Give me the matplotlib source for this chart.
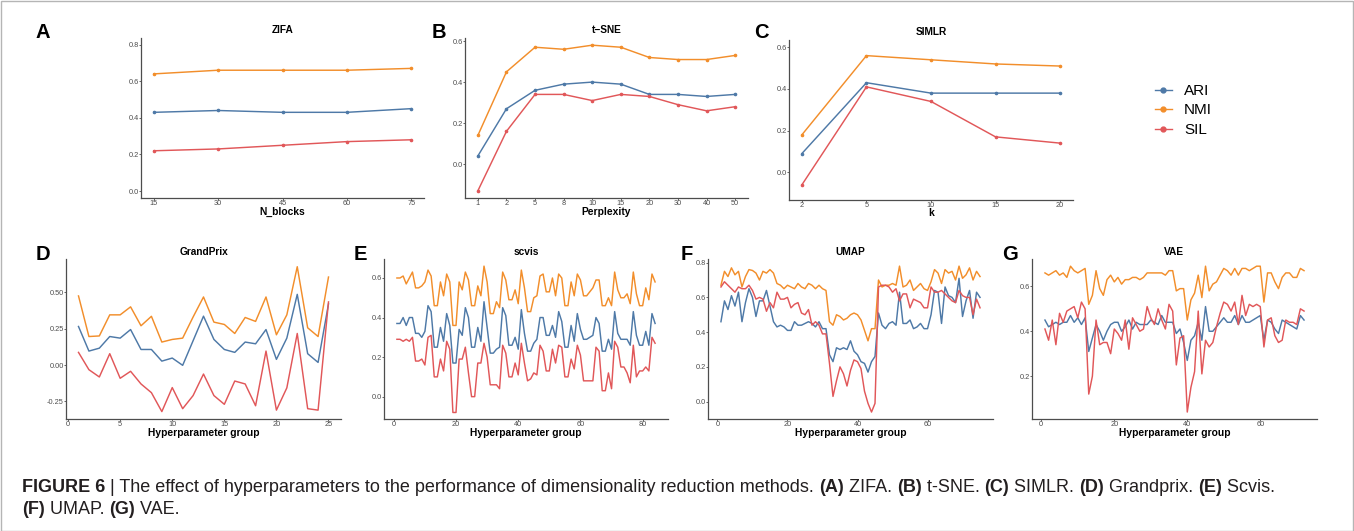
import numpy as np
import matplotlib.pyplot as plt
from matplotlib.patches import Rectangle
from matplotlib.lines import Line2D

W, H = 1354, 531
plt.rcParams['font.family'] = ['Liberation Sans', 'DejaVu Sans']

C_ARI = '#4e79a7'
C_NMI = '#f28e2b'
C_SIL = '#e15759'
AX_COL = '#4d4d4d'

# ---- data ----
zifa_x = [15, 30, 45, 60, 75]
zifa_ari = [0.43, 0.44, 0.43, 0.43, 0.45]
zifa_nmi = [0.64, 0.66, 0.66, 0.66, 0.67]
zifa_sil = [0.22, 0.23, 0.25, 0.27, 0.28]

tsne_labels = ['1', '2', '5', '8', '10', '15', '20', '30', '40', '50']
tsne_ari = [0.04, 0.27, 0.36, 0.39, 0.40, 0.39, 0.34, 0.34, 0.33, 0.34]
tsne_nmi = [0.14, 0.45, 0.57, 0.56, 0.58, 0.57, 0.52, 0.51, 0.51, 0.53]
tsne_sil = [-0.13, 0.16, 0.34, 0.34, 0.31, 0.34, 0.33, 0.29, 0.26, 0.28]

simlr_labels = ['2', '5', '10', '15', '20']
simlr_ari = [0.09, 0.43, 0.38, 0.38, 0.38]
simlr_nmi = [0.18, 0.56, 0.54, 0.52, 0.51]
simlr_sil = [-0.06, 0.41, 0.34, 0.17, 0.14]

gp_ari = [0.265, 0.096, 0.116, 0.196, 0.185, 0.244, 0.107, 0.107, 0.027, 0.048,
          -0.002, 0.167, 0.336, 0.176, 0.107, 0.087, 0.158, 0.146, 0.244, 0.039,
          0.185, 0.486, 0.078, 0.018, 0.42]
gp_nmi = [0.475, 0.196, 0.20, 0.345, 0.345, 0.40, 0.27, 0.335, 0.158, 0.176,
          0.185, 0.33, 0.468, 0.295, 0.279, 0.217, 0.327, 0.30, 0.468, 0.208,
          0.345, 0.676, 0.256, 0.196, 0.605]
gp_sil = [0.087, -0.032, -0.082, 0.078, -0.091, -0.043, -0.13, -0.19, -0.32, -0.155,
          -0.30, -0.21, -0.062, -0.21, -0.27, -0.11, -0.13, -0.28, 0.096, -0.31,
          -0.157, 0.217, -0.30, -0.31, 0.434]

scvis_nmi = [0.60, 0.60, 0.61, 0.57, 0.60, 0.63, 0.55, 0.55, 0.56, 0.58, 0.64, 0.61,
             0.46, 0.46, 0.58, 0.51, 0.62, 0.58, 0.36, 0.36, 0.58, 0.54, 0.63, 0.59,
             0.46, 0.46, 0.56, 0.51, 0.66, 0.58, 0.42, 0.42, 0.48, 0.45, 0.63, 0.59,
             0.49, 0.49, 0.54, 0.47, 0.64, 0.55, 0.43, 0.43, 0.50, 0.51, 0.61, 0.62,
             0.53, 0.53, 0.60, 0.51, 0.62, 0.60, 0.46, 0.46, 0.58, 0.51, 0.62, 0.59,
             0.51, 0.51, 0.53, 0.55, 0.59, 0.59, 0.46, 0.46, 0.50, 0.46, 0.63, 0.54,
             0.50, 0.50, 0.52, 0.47, 0.63, 0.52, 0.46, 0.46, 0.55, 0.49, 0.62, 0.58]
scvis_ari = [0.37, 0.37, 0.40, 0.36, 0.40, 0.40, 0.32, 0.32, 0.30, 0.33, 0.46, 0.43,
             0.25, 0.25, 0.35, 0.28, 0.42, 0.36, 0.17, 0.17, 0.34, 0.31, 0.45, 0.40,
             0.25, 0.25, 0.35, 0.28, 0.48, 0.35, 0.22, 0.22, 0.24, 0.25, 0.45, 0.41,
             0.26, 0.26, 0.30, 0.24, 0.44, 0.32, 0.23, 0.23, 0.27, 0.29, 0.40, 0.40,
             0.31, 0.31, 0.36, 0.30, 0.43, 0.38, 0.25, 0.25, 0.36, 0.28, 0.42, 0.34,
             0.29, 0.29, 0.30, 0.31, 0.40, 0.37, 0.23, 0.23, 0.29, 0.24, 0.43, 0.32,
             0.29, 0.29, 0.29, 0.26, 0.43, 0.31, 0.26, 0.26, 0.33, 0.26, 0.42, 0.37]
scvis_sil = [0.29, 0.29, 0.28, 0.29, 0.28, 0.30, 0.18, 0.18, 0.19, 0.16, 0.30, 0.31,
             0.10, 0.10, 0.19, 0.13, 0.28, 0.24, -0.08, -0.08, 0.19, 0.19, 0.25, 0.12,
             0.00, 0.00, 0.17, 0.17, 0.27, 0.20, 0.06, 0.06, 0.06, 0.04, 0.26, 0.22,
             0.10, 0.10, 0.17, 0.11, 0.27, 0.17, 0.08, 0.09, 0.12, 0.11, 0.26, 0.23,
             0.13, 0.13, 0.24, 0.17, 0.26, 0.25, 0.10, 0.10, 0.19, 0.14, 0.26, 0.21,
             0.08, 0.08, 0.08, 0.08, 0.25, 0.23, 0.03, 0.03, 0.12, 0.04, 0.28, 0.25,
             0.15, 0.15, 0.12, 0.07, 0.26, 0.10, 0.13, 0.13, 0.15, 0.13, 0.30, 0.27]

umap_nmi = [0.67, 0.75, 0.72, 0.77, 0.73, 0.75, 0.66, 0.72, 0.76, 0.755, 0.74, 0.70,
            0.75, 0.74, 0.76, 0.74, 0.68, 0.67, 0.65, 0.67, 0.66, 0.65, 0.68, 0.66,
            0.65, 0.68, 0.67, 0.65, 0.67, 0.65, 0.64, 0.46, 0.44, 0.50, 0.49, 0.47,
            0.48, 0.50, 0.51, 0.50, 0.47, 0.41, 0.35, 0.42, 0.42, 0.70, 0.66, 0.67,
            0.67, 0.68, 0.67, 0.78, 0.66, 0.67, 0.70, 0.64, 0.66, 0.68, 0.65, 0.64,
            0.69, 0.76, 0.74, 0.68, 0.76, 0.74, 0.75, 0.70, 0.78, 0.71, 0.73, 0.77,
            0.70, 0.75, 0.72]
umap_ari = [0.46, 0.58, 0.53, 0.61, 0.55, 0.63, 0.46, 0.57, 0.65, 0.60, 0.49, 0.58,
            0.58, 0.64, 0.55, 0.46, 0.43, 0.44, 0.43, 0.41, 0.41, 0.46, 0.44, 0.44,
            0.45, 0.46, 0.45, 0.43, 0.46, 0.42, 0.42, 0.27, 0.23, 0.31, 0.30, 0.31,
            0.30, 0.35, 0.29, 0.27, 0.23, 0.22, 0.17, 0.23, 0.26, 0.51, 0.44, 0.42,
            0.45, 0.46, 0.44, 0.63, 0.45, 0.45, 0.47, 0.42, 0.43, 0.45, 0.42, 0.42,
            0.50, 0.64, 0.63, 0.45, 0.66, 0.61, 0.60, 0.57, 0.71, 0.49, 0.58, 0.64,
            0.48, 0.63, 0.60]
umap_sil = [0.66, 0.69, 0.67, 0.65, 0.63, 0.66, 0.65, 0.65, 0.67, 0.64, 0.59, 0.60,
            0.59, 0.52, 0.57, 0.54, 0.63, 0.59, 0.59, 0.60, 0.54, 0.56, 0.57, 0.51,
            0.50, 0.53, 0.44, 0.46, 0.44, 0.39, 0.39, 0.22, 0.03, 0.12, 0.20, 0.16,
            0.09, 0.18, 0.24, 0.23, 0.19, 0.06, -0.01, -0.06, -0.01, 0.66, 0.67, 0.67,
            0.66, 0.63, 0.65, 0.58, 0.62, 0.62, 0.54, 0.59, 0.58, 0.57, 0.54, 0.54,
            0.66, 0.63, 0.63, 0.64, 0.62, 0.60, 0.58, 0.57, 0.64, 0.61, 0.60, 0.60,
            0.50, 0.59, 0.54]

vae_nmi = [0.66, 0.65, 0.66, 0.67, 0.65, 0.66, 0.64, 0.69, 0.67, 0.66, 0.67, 0.68,
           0.52, 0.56, 0.67, 0.59, 0.56, 0.63, 0.65, 0.62, 0.64, 0.61, 0.63, 0.63,
           0.64, 0.64, 0.63, 0.64, 0.66, 0.66, 0.66, 0.66, 0.66, 0.65, 0.67, 0.67,
           0.58, 0.59, 0.59, 0.45, 0.54, 0.57, 0.65, 0.55, 0.69, 0.58, 0.61, 0.62,
           0.65, 0.68, 0.67, 0.65, 0.68, 0.65, 0.68, 0.68, 0.67, 0.68, 0.69, 0.69,
           0.53, 0.66, 0.66, 0.62, 0.59, 0.64, 0.66, 0.66, 0.64, 0.64, 0.68, 0.67]
vae_ari = [0.45, 0.42, 0.43, 0.44, 0.43, 0.44, 0.44, 0.47, 0.44, 0.46, 0.43, 0.46,
           0.31, 0.37, 0.43, 0.40, 0.36, 0.40, 0.43, 0.44, 0.44, 0.40, 0.42, 0.45,
           0.41, 0.44, 0.43, 0.43, 0.43, 0.45, 0.44, 0.43, 0.47, 0.44, 0.44, 0.44,
           0.39, 0.41, 0.35, 0.27, 0.36, 0.38, 0.44, 0.36, 0.51, 0.40, 0.40, 0.42,
           0.44, 0.46, 0.44, 0.44, 0.47, 0.43, 0.47, 0.44, 0.44, 0.45, 0.46, 0.47,
           0.36, 0.45, 0.44, 0.41, 0.39, 0.45, 0.44, 0.43, 0.42, 0.41, 0.47, 0.45]
vae_sil = [0.41, 0.36, 0.45, 0.34, 0.48, 0.44, 0.49, 0.50, 0.51, 0.46, 0.53, 0.50,
           0.12, 0.20, 0.45, 0.34, 0.35, 0.35, 0.30, 0.41, 0.39, 0.36, 0.45, 0.32,
           0.46, 0.43, 0.40, 0.41, 0.51, 0.46, 0.43, 0.50, 0.45, 0.41, 0.52, 0.49,
           0.25, 0.37, 0.38, 0.04, 0.15, 0.22, 0.49, 0.21, 0.36, 0.33, 0.35, 0.42,
           0.48, 0.53, 0.52, 0.49, 0.53, 0.43, 0.56, 0.47, 0.52, 0.51, 0.52, 0.51,
           0.33, 0.45, 0.46, 0.38, 0.35, 0.36, 0.45, 0.44, 0.44, 0.43, 0.50, 0.49]

metric_names = ['ARI', 'NMI', 'SIL']
metric_colors = [C_ARI, C_NMI, C_SIL]


def fx(px):
    return px / W


def fy(py):
    return 1 - py / H


def make_axes(fig, l, t, r, b):
    ax = fig.add_axes([fx(l), fy(b), (r - l) / W, (b - t) / H])
    for s in ['top', 'right']:
        ax.spines[s].set_visible(False)
    for s in ['left', 'bottom']:
        ax.spines[s].set_color(AX_COL)
        ax.spines[s].set_linewidth(0.9)
    ax.tick_params(length=1.1, width=0.6, color=AX_COL, pad=0.5,
                   labelsize=5.3, labelcolor=AX_COL)
    ax.patch.set_alpha(0)
    return ax


def panel(fig, box, letter, letter_x, title, x, ari, nmi, sil, xlabel,
          ylim, yticks, yfmt, xticks=None, xticklabels=None, marker=None,
          row_y=(33, 30, 212)):
    l, t, r, b = box
    ax = make_axes(fig, l, t, r, b)
    kw = dict(lw=1.05, marker=marker, markersize=1.6 if marker else 0)
    for vals, name, col in zip([ari, nmi, sil], metric_names, metric_colors):
        ax.plot(x, vals, color=col, label=name, **kw)
    ax.margins(x=0.05)
    ax.set_ylim(*ylim)
    ax.set_yticks(yticks)
    ax.set_yticklabels([yfmt % v for v in yticks])
    if xticks is not None:
        ax.set_xticks(xticks)
    if xticklabels is not None:
        ax.set_xticklabels(xticklabels)
    cx = (l + r) / 2
    fig.text(fx(letter_x), fy(row_y[0]), letter, fontsize=14.5,
             fontweight='bold', ha='left', va='center')
    fig.text(fx(cx), fy(row_y[1]), title, fontsize=7.3, fontweight='bold',
             ha='center', va='center')
    fig.text(fx(cx), fy(row_y[2]), xlabel, fontsize=7.4, fontweight='bold',
             ha='center', va='center')
    return ax


fig = plt.figure(figsize=(W / 100, H / 100), dpi=100)

panel(fig, (141, 38, 424, 198), 'A', 36, 'ZIFA', zifa_x, zifa_ari,
      zifa_nmi, zifa_sil, 'N_blocks', (-0.038, 0.836),
      [0.0, 0.2, 0.4, 0.6, 0.8], '%.1f', xticks=zifa_x, marker='o')
xb = np.arange(1, len(tsne_labels) + 1)
panel(fig, (465, 38, 748, 198), 'B', 432, 't\u2212SNE', xb, tsne_ari,
      tsne_nmi, tsne_sil, 'Perplexity', (-0.165, 0.615),
      [0.0, 0.2, 0.4, 0.6], '%.1f', xticks=xb, xticklabels=tsne_labels,
      marker='o')
xc = np.arange(1, len(simlr_labels) + 1)
panel(fig, (789, 40, 1073, 200), 'C', 754, 'SIMLR', xc, simlr_ari,
      simlr_nmi, simlr_sil, 'k', (-0.133, 0.635),
      [0.0, 0.2, 0.4, 0.6], '%.1f', xticks=xc, xticklabels=simlr_labels,
      marker='o', row_y=(33, 32, 213))

bottom = (254, 252, 433)
panel(fig, (66, 259, 341, 419), 'D', 36, 'GrandPrix',
      np.arange(1, len(gp_ari) + 1), gp_ari, gp_nmi, gp_sil,
      'Hyperparameter group', (-0.371, 0.729), [-0.25, 0.0, 0.25, 0.5],
      '%.2f', xticks=[0, 5, 10, 15, 20, 25], row_y=bottom)
panel(fig, (384, 259, 668, 419), 'E', 354, 'scvis',
      np.arange(1, len(scvis_ari) + 1), scvis_ari, scvis_nmi, scvis_sil,
      'Hyperparameter group', (-0.113, 0.696), [0.0, 0.2, 0.4, 0.6],
      '%.1f', xticks=[0, 20, 40, 60, 80], row_y=bottom)
panel(fig, (708, 259, 993, 419), 'F', 681, 'UMAP',
      np.arange(1, len(umap_ari) + 1), umap_ari, umap_nmi, umap_sil,
      'Hyperparameter group', (-0.10, 0.821), [0.0, 0.2, 0.4, 0.6, 0.8],
      '%.1f', xticks=[0, 20, 40, 60], row_y=bottom)
panel(fig, (1032, 259, 1317, 419), 'G', 1002, 'VAE',
      np.arange(1, len(vae_ari) + 1), vae_ari, vae_nmi, vae_sil,
      'Hyperparameter group', (0.009, 0.722), [0.2, 0.4, 0.6],
      '%.1f', xticks=[0, 20, 40, 60], row_y=bottom)

# legend (separate handles so the plotted markers stay small)
handles = [Line2D([], [], color=c, lw=1.0, marker='o', markersize=3.5)
           for c in metric_colors]
fig.legend(handles, metric_names, loc='upper left',
           bbox_to_anchor=(fx(1155), fy(84)), frameon=False, fontsize=11,
           handlelength=1.1, handletextpad=0.8, labelspacing=0.36,
           borderpad=0, borderaxespad=0)

# caption
cap_lines = [
    [('FIGURE 6', True), (' | The effect of hyperparameters to the performance of '
                          'dimensionality reduction methods. ', False),
     ('(A)', True), (' ZIFA. ', False), ('(B)', True), (' t-SNE. ', False),
     ('(C)', True), (' SIMLR. ', False), ('(D)', True), (' Grandprix. ', False),
     ('(E)', True), (' Scvis.', False)],
    [('(F)', True), (' UMAP. ', False), ('(G)', True), (' VAE.', False)],
]
cap_y = [487, 510]
renderer = fig.canvas.get_renderer()


def lay_caption(size):
    texts = []
    widths = []
    for line, y in zip(cap_lines, cap_y):
        x = 22
        for s, bold in line:
            t = fig.text(fx(x), fy(y), s, fontsize=size,
                         fontweight='bold' if bold else 'normal',
                         ha='left', va='center', color='#231f20')
            x += t.get_window_extent(renderer).width
            texts.append(t)
        widths.append(x - 22)
    return texts, widths


texts, widths = lay_caption(12)
scale = 1256 / widths[0]
for t in texts:
    t.remove()
lay_caption(12 * scale)

# outer frame
fig.patches.append(Rectangle((0.5 / W, 0.5 / H), 1 - 1.5 / W, 1 - 1.5 / H,
                             transform=fig.transFigure, fill=False,
                             edgecolor='#b5b5b5', lw=1.0))

fig.savefig('out.png', dpi=100)
